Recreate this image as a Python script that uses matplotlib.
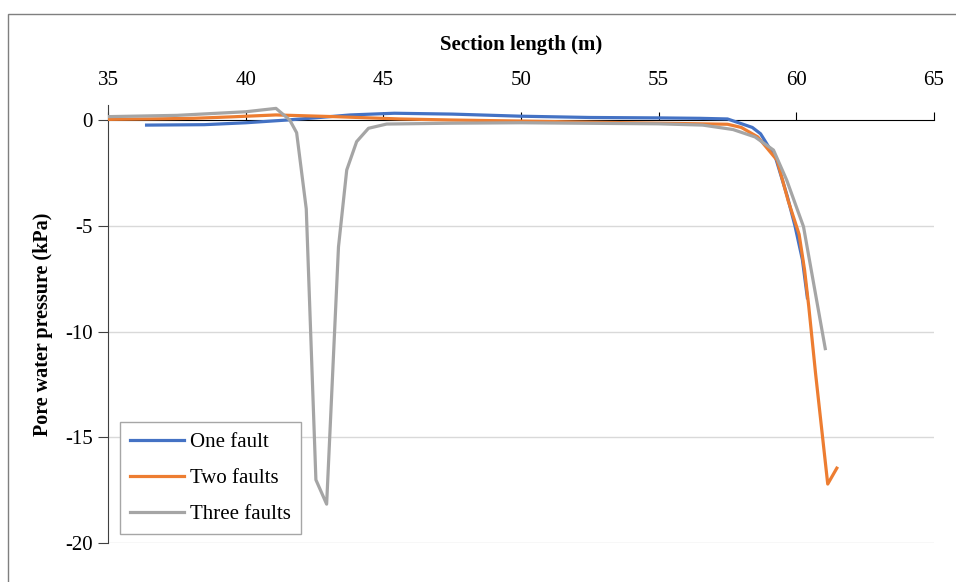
import matplotlib.pyplot as plt
from matplotlib.patches import Rectangle

plt.rcParams['font.family'] = ['Liberation Serif', 'DejaVu Serif']
plt.rcParams['axes.unicode_minus'] = False

# Pore water pressure along the section for each fault case
x_one = [36.4, 38.5, 40.0, 41.5, 42.5, 43.8, 45.4, 47.5, 50.0, 52.5, 55.0, 56.5, 57.5,
         58.4, 58.7, 59.25, 59.67, 59.95, 60.22, 60.4]
p_one = [-0.24, -0.22, -0.13, 0.0, 0.1, 0.24, 0.32, 0.28, 0.18, 0.12, 0.1, 0.08, 0.05,
         -0.35, -0.65, -1.8, -3.6, -5.0, -6.6, -8.4]

x_two = [35.0, 36.5, 38.1, 39.5, 41.1, 43.2, 45.6, 47.5, 50.0, 52.5, 55.0, 57.5, 58.0,
         58.6, 59.3, 59.7, 60.1, 60.3, 60.45, 60.7, 61.14, 61.47]
p_two = [0.03, 0.05, 0.08, 0.15, 0.24, 0.16, 0.05, 0.0, -0.05, -0.1, -0.15, -0.2, -0.35,
         -0.8, -1.9, -3.8, -5.4, -7.1, -8.8, -12.0, -17.2, -16.45]

x_three = [35.0, 37.5, 40.0, 41.1, 41.6, 41.85, 42.2, 42.55, 42.94, 43.37, 43.67, 44.03,
           44.46, 45.12, 47.5, 50.0, 55.0, 56.6, 57.7, 58.5, 59.17, 59.65, 60.26, 61.05]
p_three = [0.16, 0.22, 0.39, 0.55, 0.0, -0.6, -4.2, -17.0, -18.15, -6.0, -2.36, -1.02,
           -0.39, -0.19, -0.15, -0.13, -0.18, -0.24, -0.45, -0.8, -1.42, -2.84, -5.04, -10.8]

x_ticks = [35, 40, 45, 50, 55, 60, 65]
y_ticks = [0, -5, -10, -15, -20]

fig = plt.figure(figsize=(9.56, 5.82), dpi=100)
ax = fig.add_axes([0.113, 0.0665, 0.864, 0.7531])

# chart area border
fig.add_artist(Rectangle((0.0084, -0.5), 1.5, 0.976 + 0.5, transform=fig.transFigure,
                         fill=False, edgecolor='#7f7f7f', lw=1.0))

ax.plot(x_one, p_one, color='#4472C4', lw=2.3, label='One fault', zorder=3)
ax.plot(x_two, p_two, color='#ED7D31', lw=2.3, label='Two faults', zorder=3)
ax.plot(x_three, p_three, color='#A5A5A5', lw=2.3, label='Three faults', zorder=3)

ax.set_xlim(35, 65)
ax.set_ylim(-20, 0.71)
ax.set_xticks(x_ticks)
ax.set_yticks(y_ticks)

for v in [-5, -10, -15, -20]:
    ax.axhline(v, color='#d9d9d9', lw=1.0, zorder=1)

# x axis crosses at zero, labels sit above the plot
ax.spines['bottom'].set_position(('data', 0))
ax.spines['bottom'].set_color('black')
ax.spines['bottom'].set_zorder(2)
ax.spines['top'].set_visible(False)
ax.spines['right'].set_visible(False)
ax.spines['left'].set_color('#404040')
ax.tick_params(axis='x', direction='in', length=6, color='black', bottom=True,
               labelbottom=False, top=False, labeltop=True, labelsize=15, pad=11)
ax.tick_params(axis='y', direction='out', length=7, color='#404040', labelsize=15, pad=4)

ax.xaxis.set_label_position('top')
ax.set_xlabel('Section length (m)', fontsize=15, fontweight='bold', labelpad=15)
ax.set_ylabel('Pore water pressure (kPa)', fontsize=14.5, fontweight='bold', labelpad=9)

leg = ax.legend(loc='lower left', bbox_to_anchor=(0.0145, 0.0205), borderaxespad=0,
                fontsize=15, fancybox=False, edgecolor='#a6a6a6', framealpha=1,
                handlelength=2.55, handletextpad=0.3, labelspacing=0.78, borderpad=0.5)
leg.get_frame().set_linewidth(1.0)

fig.savefig('out.png', dpi=100)
